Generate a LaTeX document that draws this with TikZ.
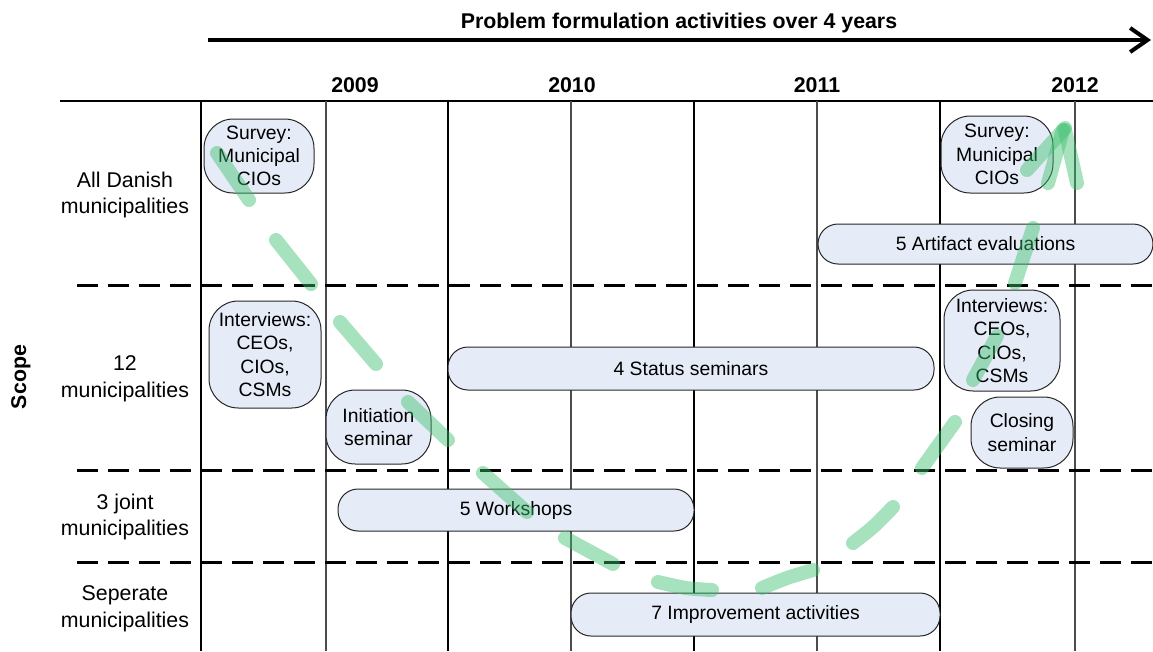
\documentclass[tikz,border=0pt]{standalone}
\usepackage{fontspec}
\setmainfont{Liberation Sans}
\usetikzlibrary{arrows.meta, positioning}
\definecolor{boxfill}{RGB}{230,236,247}
\definecolor{trailgreen}{RGB}{60,190,110}

\begin{document}
\begin{tikzpicture}[x=0.75pt,y=-0.75pt,
  activity/.style={draw=black!85, line width=0.75pt, fill=boxfill, rounded corners=22pt,
    inner sep=0pt, align=center, font=\fontsize{14.5}{17.5}\selectfont},
  bar/.style={activity, rounded corners=15pt},
  rowlabel/.style={align=center, font=\fontsize{16}{20}\selectfont},
  heading/.style={font=\fontsize{16}{19.5}\selectfont\bfseries},
  thickgrid/.style={line width=2pt},
  thingrid/.style={line width=0.8pt, black!70},
  scopeline/.style={line width=2.25pt, dash pattern=on 15.75pt off 7.5pt},
  sketch/.style={line width=10.5pt, line cap=round, draw=trailgreen, draw opacity=0.45}]
  \useasboundingbox (0,0) rectangle (1153,651);

  % Time arrow
  \node[heading, anchor=base] (title) at (679,28) {Problem formulation activities over 4 years};
  \coordinate (tstart) at (208,40);
  \coordinate (tend) at (1151,40);
  \draw[line width=3pt, -{Straight Barb[length=13pt,width=18pt]}] (tstart) -- (tend);

  % Years and grid
  \foreach \x/\yr in {355/2009, 572/2010, 817/2011, 1075/2012}
    \node[heading, anchor=base] (y\yr) at (\x,92) {\yr};
  \draw[line width=2pt] (60,101) -- (1153,101);
  \foreach \x in {201,448,694,940} \draw[thickgrid] (\x,101) -- (\x,651);
  \foreach \x in {326,571,817,1075} \draw[thingrid] (\x,101) -- (\x,651);
  \foreach \y in {285,470,562} \draw[scopeline] (77,\y) -- (1153,\y);

  % Scope rows
  \node[heading, rotate=90] (scope) at (21,377) {Scope};
  \node[rowlabel] (rowAll) at (125,195) {All Danish\\municipalities};
  \node[rowlabel] (rowTwelve) at (125,379) {12\\municipalities};
  \node[rowlabel] (rowJoint) at (125,517) {3 joint\\municipalities};
  \node[rowlabel] (rowSep) at (125,609) {Seperate\\municipalities};

  % Activities
  \node[activity, minimum width=82.5pt, minimum height=55.5pt] (surveyA) at (259,156) {Survey:\\Municipal\\CIOs};
  \node[activity, minimum width=84pt, minimum height=57.75pt] (surveyB) at (997,154.5) {Survey:\\Municipal\\CIOs};
  \node[bar, minimum width=251.25pt, minimum height=30pt] (artifact) at (985.5,244) {5 Artifact evaluations};
  \node[activity, minimum width=84pt, minimum height=80.25pt] (interviewsA) at (265,354.5) {Interviews:\\CEOs,\\CIOs,\\CSMs};
  \node[activity, minimum width=87pt, minimum height=75.75pt] (interviewsB) at (1002,340.5) {Interviews:\\CEOs,\\CIOs,\\CSMs};
  \node[activity, minimum width=78.75pt, minimum height=55.5pt] (initiation) at (378.5,427) {Initiation\\seminar};
  \node[activity, minimum width=76.5pt, minimum height=53.25pt] (closing) at (1022,432.5) {Closing\\seminar};
  \node[bar, minimum width=364.5pt, minimum height=32.25pt] (status) at (691,368.5) {4 Status seminars};
  \node[bar, minimum width=267pt, minimum height=31.5pt] (workshops) at (516,510) {5 Workshops};
  \node[bar, minimum width=276.75pt, minimum height=32.25pt] (improvement) at (755.5,614.5) {7 Improvement activities};

  % Hand drawn trail
  \foreach \xa/\ya/\xb/\yb in {217/153/249/200, 276/240/311/284, 340/322/376/364,
      408/402/448/440, 483/473/527/512, 565/538/613/564, 922/468/955/422,
      973/380/997/336, 1015/283/1033/228, 1027/170/1065/128, 1048/183/1063/130,
      1065/130/1077/183}
    \draw[sketch] (\xa,\ya) -- (\xb,\yb);
  \draw[sketch] plot[smooth] coordinates {(658,582) (686,588) (712,590)};
  \draw[sketch] plot[smooth] coordinates {(762,588) (787,578) (813,570)};
  \draw[sketch] plot[smooth] coordinates {(853,543) (873,527) (893,507)};
\end{tikzpicture}
\end{document}
